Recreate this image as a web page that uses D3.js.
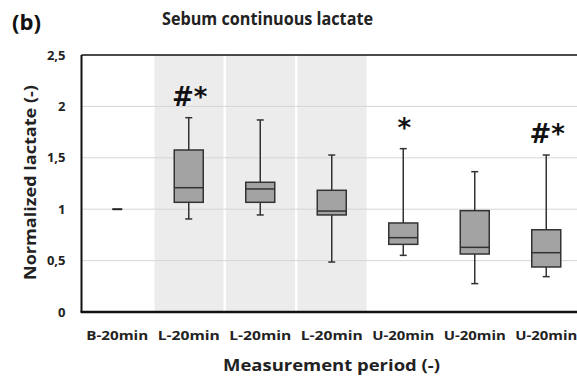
<!DOCTYPE html>
<html><head><meta charset="utf-8">
<script src="https://cdn.jsdelivr.net/npm/d3@7"></script>
<style>body{margin:0;background:#fff}svg{display:block}text{font-family:"Open Sans",sans-serif;font-weight:bold}</style>
</head><body>
<svg id="c" width="577" height="376"></svg>
<script>
const categories = ["B-20min","L-20min","L-20min","L-20min","U-20min","U-20min","U-20min"];
const whiskerLow  = [1.00, 0.905, 0.944, 0.486, 0.551, 0.276, 0.344];
const q1          = [1.00, 1.067, 1.067, 0.944, 0.658, 0.564, 0.438];
const median      = [1.00, 1.209, 1.197, 0.982, 0.723, 0.629, 0.577];
const q3          = [1.00, 1.576, 1.262, 1.184, 0.866, 0.986, 0.800];
const whiskerHigh = [1.00, 1.890, 1.868, 1.527, 1.589, 1.365, 1.527];
const annotations = ["", "#*", "", "", "*", "", "#*"];
const shaded      = [false, true, true, true, false, false, false];
const yTicks = [0, 0.5, 1, 1.5, 2, 2.5];
const yTickLabels = ["0","0,5","1","1,5","2","2,5"];

const svg = d3.select("#c");
const L = 81.5, R = 582, T = 55, B = 312;
const x = d3.scaleBand().domain(d3.range(categories.length)).range([L, R]).padding(0);
const y = d3.scaleLinear().domain([0, 2.5]).range([B, T]);
const bw = x.bandwidth();

// shaded bands
svg.append("g").selectAll("rect").data(d3.range(categories.length).filter(i => shaded[i]))
  .join("rect").attr("x", i => x(i) + 1.5).attr("width", bw - 2.5)
  .attr("y", T).attr("height", B - T).attr("fill", "#ececec");

// gridlines
svg.append("g").selectAll("line").data(yTicks.filter(v => v > 0 && v < 2.5)).join("line")
  .attr("x1", L).attr("x2", R).attr("y1", d => y(d)).attr("y2", d => y(d))
  .attr("stroke", "#d6d6d6").attr("stroke-width", 1);

// boxes
const g = svg.append("g");
d3.range(categories.length).forEach(i => {
  const cx = x(i) + bw / 2;
  if (q3[i] - q1[i] < 1e-6) {
    g.append("line").attr("x1", cx - 5).attr("x2", cx + 5)
      .attr("y1", y(median[i])).attr("y2", y(median[i])).attr("stroke", "#222").attr("stroke-width", 2);
    return;
  }
  const cap = 3.5, half = 14.5;
  const st = "#333", sw = 1.5;
  g.append("line").attr("x1", cx).attr("x2", cx).attr("y1", y(whiskerHigh[i])).attr("y2", y(q3[i])).attr("stroke", st).attr("stroke-width", sw);
  g.append("line").attr("x1", cx).attr("x2", cx).attr("y1", y(q1[i])).attr("y2", y(whiskerLow[i])).attr("stroke", st).attr("stroke-width", sw);
  g.append("line").attr("x1", cx - cap).attr("x2", cx + cap).attr("y1", y(whiskerHigh[i])).attr("y2", y(whiskerHigh[i])).attr("stroke", st).attr("stroke-width", sw);
  g.append("line").attr("x1", cx - cap).attr("x2", cx + cap).attr("y1", y(whiskerLow[i])).attr("y2", y(whiskerLow[i])).attr("stroke", st).attr("stroke-width", sw);
  g.append("rect").attr("x", cx - half).attr("width", 2 * half)
    .attr("y", y(q3[i])).attr("height", y(q1[i]) - y(q3[i]))
    .attr("fill", "#a3a3a3").attr("stroke", st).attr("stroke-width", sw);
  g.append("line").attr("x1", cx - half).attr("x2", cx + half).attr("y1", y(median[i])).attr("y2", y(median[i])).attr("stroke", st).attr("stroke-width", sw);
  if (annotations[i]) {
    g.append("text").attr("x", cx + 1).attr("y", y(whiskerHigh[i]) - 12)
      .attr("text-anchor", "middle").attr("font-size", 26).attr("fill", "#111")
      .style("font-family", "'DejaVu Sans',sans-serif").text(annotations[i]);
  }
});

// frame
svg.append("line").attr("x1", L).attr("x2", R).attr("y1", T).attr("y2", T).attr("stroke", "#111").attr("stroke-width", 1.5);
svg.append("line").attr("x1", L).attr("x2", L).attr("y1", T).attr("y2", B).attr("stroke", "#111").attr("stroke-width", 2);
svg.append("line").attr("x1", L - 1).attr("x2", R).attr("y1", B).attr("y2", B).attr("stroke", "#111").attr("stroke-width", 2.5);

// y axis labels
const ya = svg.append("g").attr("transform", `translate(${L},0)`)
  .call(d3.axisLeft(y).tickValues(yTicks).tickSize(0).tickPadding(16).tickFormat((d, i) => yTickLabels[i]));
ya.select(".domain").remove();
ya.selectAll("text").attr("font-size", 13).attr("fill", "#222").style("font-family", "'Open Sans',sans-serif");

// x axis labels
const xa = svg.append("g").attr("transform", `translate(0,${B})`)
  .call(d3.axisBottom(x).tickSize(0).tickPadding(19).tickFormat(i => categories[i]));
xa.select(".domain").remove();
xa.selectAll("text").attr("font-size", 12.5).attr("fill", "#222").style("font-family", "'Open Sans',sans-serif")
  .attr("textLength", 62).attr("lengthAdjust", "spacingAndGlyphs");

// titles
svg.append("text").attr("x", 267.5).attr("y", 25).attr("text-anchor", "middle").attr("font-size", 17).attr("fill", "#222")
  .attr("textLength", 211).attr("lengthAdjust", "spacingAndGlyphs").text("Sebum continuous lactate");
svg.append("text").attr("x", 12).attr("y", 30).attr("font-size", 21).attr("fill", "#111")
  .attr("textLength", 29).attr("lengthAdjust", "spacingAndGlyphs").text("(b)");
svg.append("text").attr("x", 331.5).attr("y", 371).attr("text-anchor", "middle").attr("font-size", 16.5).attr("fill", "#222")
  .attr("textLength", 217).attr("lengthAdjust", "spacingAndGlyphs").text("Measurement period (-)");
svg.append("text").attr("transform", "translate(35.5,182.5) rotate(-90)").attr("text-anchor", "middle").attr("font-size", 16.5).attr("fill", "#222")
  .attr("textLength", 195).attr("lengthAdjust", "spacingAndGlyphs").text("Normalized lactate (-)");
</script>
</body></html>
